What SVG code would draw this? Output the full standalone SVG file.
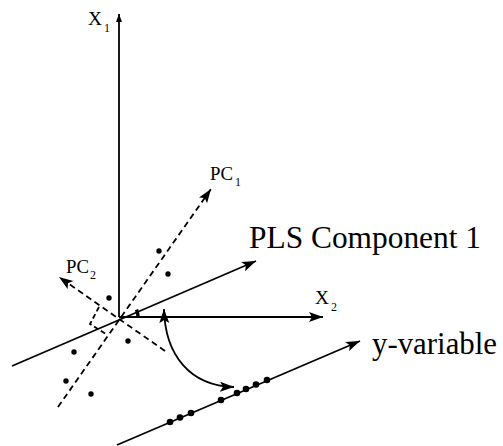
<svg xmlns="http://www.w3.org/2000/svg" width="503" height="446" viewBox="0 0 503 446">
<style>
.ax{stroke:#000;stroke-width:1.8;fill:none}
.da{stroke:#000;stroke-width:1.8;fill:none;stroke-dasharray:6,4}
.lbl{font-family:"Liberation Serif","DejaVu Serif",serif;fill:#000}
.dot{fill:#000}
</style>
<defs>
<marker id="ah" markerUnits="userSpaceOnUse" markerWidth="16" markerHeight="11" refX="14" refY="5" orient="auto-start-reverse">
<path d="M0,0 L14,5 L0,10 L3,5 Z" fill="#000"/>
</marker>
<marker id="ahs" markerUnits="userSpaceOnUse" markerWidth="9" markerHeight="7" refX="8" refY="3" orient="auto">
<path d="M0,0 L8,3 L0,6 Z" fill="#000"/>
</marker>
</defs>
<g id="connectors">
<line id="x1-axis" class="ax" x1="119" y1="317" x2="119" y2="14" marker-end="url(#ahs)"/>
<line id="x2-axis" class="ax" x1="119" y1="317" x2="323" y2="317" marker-end="url(#ah)"/>
<line id="pc1-axis" class="da" x1="58" y1="407" x2="211" y2="189" marker-end="url(#ah)"/>
<line id="pc2-axis" class="da" x1="165" y1="351" x2="59" y2="277" marker-end="url(#ah)"/>
<polyline id="right-angle" class="da" points="99,307 90,324 106,334" style="stroke-dasharray:5,3"/>
<line id="pls-axis" class="ax" x1="12" y1="366" x2="256" y2="261" marker-end="url(#ah)"/>
<line id="y-axis" class="ax" x1="117" y1="445" x2="360" y2="341" marker-end="url(#ah)"/>
<path id="angle-arc" d="M138,317 A19,19 0 0 0 136.5,309.6" stroke="#000" stroke-width="3.5" fill="none"/>
<path id="projection-arrow" class="ax" d="M164,309 C165,355 190,386 234,387" marker-start="url(#ah)" marker-end="url(#ah)"/>
</g>
<g id="scatter">
<circle class="dot" cx="159" cy="251" r="2.7"/>
<circle class="dot" cx="168" cy="274" r="2.7"/>
<circle class="dot" cx="109" cy="298" r="2.7"/>
<circle class="dot" cx="128" cy="341" r="2.7"/>
<circle class="dot" cx="74" cy="352" r="2.7"/>
<circle class="dot" cx="66" cy="381" r="2.7"/>
<circle class="dot" cx="91" cy="394" r="2.7"/>
</g>
<g id="projected">
<circle class="dot" cx="170" cy="422" r="3.3"/>
<circle class="dot" cx="180" cy="417.5" r="3.3"/>
<circle class="dot" cx="191" cy="413" r="3.3"/>
<circle class="dot" cx="221" cy="400" r="3.3"/>
<circle class="dot" cx="237" cy="393" r="3.3"/>
<circle class="dot" cx="246" cy="389" r="3.3"/>
<circle class="dot" cx="256" cy="384.5" r="3.3"/>
<circle class="dot" cx="267" cy="380" r="3.3"/>
</g>
<g id="label-x1">
<text class="lbl" x="88" y="25" font-size="19" textLength="14" lengthAdjust="spacingAndGlyphs">X</text>
<text class="lbl" x="104" y="32" font-size="12">1</text>
</g>
<g id="label-x2">
<text class="lbl" x="315" y="304" font-size="19" textLength="14" lengthAdjust="spacingAndGlyphs">X</text>
<text class="lbl" x="331" y="311" font-size="12">2</text>
</g>
<g id="label-pc1">
<text class="lbl" x="210" y="180" font-size="19" textLength="23" lengthAdjust="spacingAndGlyphs">PC</text>
<text class="lbl" x="235" y="186" font-size="12">1</text>
</g>
<g id="label-pc2">
<text class="lbl" x="66" y="273" font-size="19" textLength="23" lengthAdjust="spacingAndGlyphs">PC</text>
<text class="lbl" x="90" y="279" font-size="12">2</text>
</g>
<g id="label-pls">
<text class="lbl" x="249" y="248" font-size="31" textLength="232" lengthAdjust="spacingAndGlyphs">PLS Component 1</text>
</g>
<g id="label-y">
<text class="lbl" x="372" y="354" font-size="31" textLength="125" lengthAdjust="spacingAndGlyphs">y-variable</text>
</g>
</svg>
